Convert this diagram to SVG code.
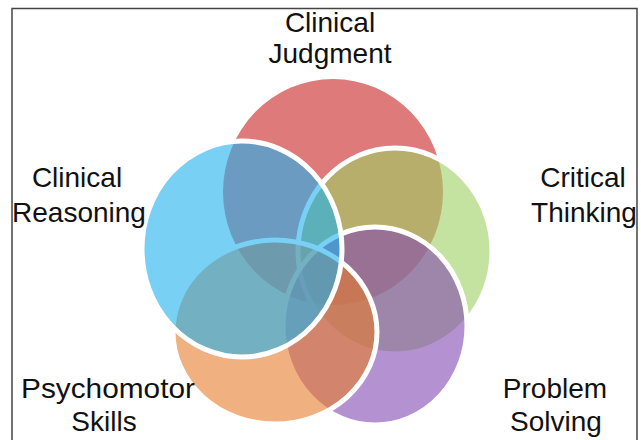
<svg xmlns="http://www.w3.org/2000/svg" width="641" height="440" viewBox="0 0 641 440">
  <style>
    .lbl { font-family: "Liberation Sans", Arial, sans-serif; font-size: 28px; fill: #111; text-anchor: middle; }
    .c { fill-opacity: 0.6; stroke: #ffffff; stroke-width: 5; }
  </style>
  <rect x="0" y="0" width="641" height="440" fill="#ffffff"/>
  <rect x="12" y="8.5" width="625" height="440" fill="none" stroke="#444" stroke-width="1.5"/>
  <g id="clinical-judgment">
    <ellipse cx="333" cy="192" rx="110" ry="113" fill="#C82121" fill-opacity="0.6"/>
    <text class="lbl" x="330" y="32">Clinical</text>
    <text class="lbl" x="330" y="63">Judgment</text>
  </g>
  <g id="critical-thinking">
    <ellipse class="c" cx="395" cy="251" rx="97" ry="103" fill="#9ED061"/>
    <text class="lbl" x="583" y="187">Critical</text>
    <text class="lbl" x="584" y="222">Thinking</text>
  </g>
  <g id="problem-solving">
    <ellipse class="c" cx="375" cy="326" rx="92" ry="99" fill="#8248B1"/>
    <text class="lbl" x="555" y="398">Problem</text>
    <text class="lbl" x="556" y="431">Solving</text>
  </g>
  <g id="psychomotor-skills">
    <ellipse class="c" cx="275" cy="332" rx="102" ry="92" fill="#E67B2B"/>
    <text class="lbl" x="108" y="398" textLength="174" lengthAdjust="spacingAndGlyphs">Psychomotor</text>
    <text class="lbl" x="104" y="431">Skills</text>
  </g>
  <g id="clinical-reasoning">
    <ellipse class="c" cx="242" cy="249" rx="100" ry="108" fill="#1EB1EE"/>
    <text class="lbl" x="77" y="187">Clinical</text>
    <text class="lbl" x="79" y="222">Reasoning</text>
  </g>
  <g id="connectors"/>
</svg>
